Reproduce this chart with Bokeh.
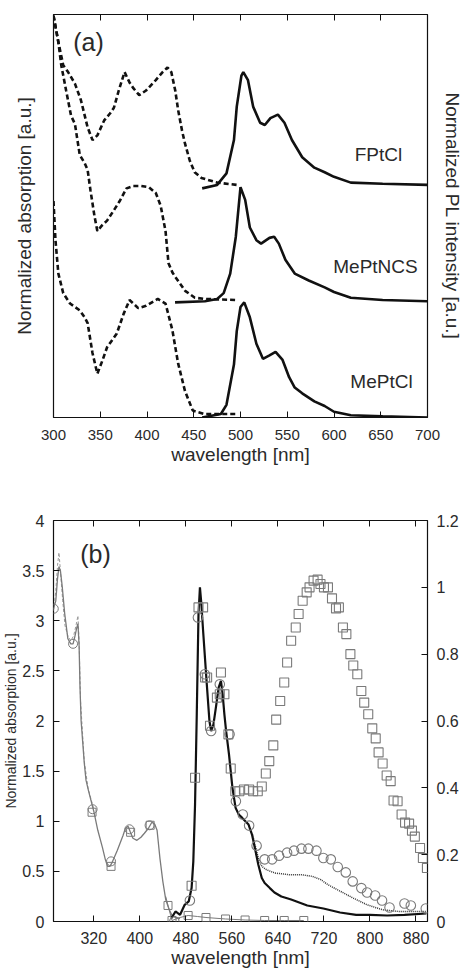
import math
from bokeh.plotting import figure
from bokeh.models import Range1d, LinearAxis, FixedTicker, Label, CustomJSTickFormatter
from bokeh.layouts import column
from bokeh.embed import file_html
from bokeh.resources import INLINE

# ---------------- panel (a) data ----------------
offsets_a = {"FPtCl": 2.0, "MePtNCS": 1.0, "MePtCl": 0.0}

wl_abs_fptcl = [300, 305.2, 310.4, 315.6, 322.9, 329.2, 336.5, 341.7, 346.9, 354.2, 360.4, 364.6, 369.8, 376,
                381.3, 385.4, 391.7, 399, 409.4, 416.7, 421.9, 426, 430.2, 433.3, 437.5, 440.6, 445.8, 451,
                458.3, 475, 495.8]
abs_fptcl = [1.49, 1.26, 1.06, 1.00, 0.90, 0.76, 0.52, 0.41, 0.45, 0.58, 0.64, 0.69, 0.84, 1.00,
             0.91, 0.86, 0.80, 0.84, 0.93, 1.00, 1.04, 1.00, 0.84, 0.67, 0.49, 0.38, 0.23, 0.13,
             0.08, 0.04, 0.02]

wl_abs_meptncs = [300, 305.2, 308.3, 313.5, 318.8, 322.9, 328.1, 333.3, 336.5, 339.6, 343.8, 346.9, 352.1,
                  357.3, 364.6, 370.8, 378.1, 385.4, 393.8, 402.1, 409.4, 414.6, 419.8, 423.0, 427.2, 430.4,
                  435.6, 440.8, 451.2, 461.6, 496]
abs_meptncs = [2.49, 2.26, 2.06, 1.84, 1.62, 1.55, 1.28, 1.21, 1.15, 0.97, 0.75, 0.62, 0.67,
               0.71, 0.80, 0.88, 0.99, 1.01, 1.01, 1.00, 0.95, 0.84, 0.62, 0.34, 0.26, 0.22,
               0.16, 0.10, 0.04, 0.03, 0.02]

wl_abs_meptcl = [300, 302.1, 305.2, 310.4, 317.7, 328.1, 333.3, 336.5, 341.7, 346.9, 352.1, 357.3, 367.7,
                 375, 381.3, 385.4, 390.6, 399, 411.5, 419.8, 427.1, 433.3, 440.6, 449, 461.6, 496]
abs_meptcl = [1.88, 1.54, 1.25, 1.08, 0.99, 0.93, 0.87, 0.82, 0.56, 0.38, 0.49, 0.61, 0.73,
              0.90, 1.02, 0.99, 0.95, 0.97, 1.03, 0.99, 0.76, 0.47, 0.23, 0.06, 0.03, 0.03]

wl_pl_fptcl = [459, 475, 485, 493, 496, 501, 503, 508, 513.5, 521, 526, 532, 540, 547, 555, 566, 579,
               590, 600, 618, 652, 700]
pl_fptcl = [-0.01, 0.02, 0.12, 0.41, 0.70, 0.97, 1.0, 0.93, 0.70, 0.56, 0.54, 0.60, 0.63, 0.56, 0.41,
            0.26, 0.17, 0.13, 0.09, 0.04, 0.03, 0.02]

wl_pl_meptncs = [430, 462, 475, 482, 489, 495, 500, 505, 510, 517, 522, 531, 536, 541, 548, 558, 573,
                 590, 600, 618, 652, 700]
pl_meptncs = [0.0, 0.01, 0.03, 0.08, 0.25, 0.57, 1.0, 0.89, 0.65, 0.54, 0.51, 0.56, 0.57, 0.51, 0.37,
              0.25, 0.19, 0.13, 0.09, 0.04, 0.02, 0.01]

wl_pl_meptcl = [459, 479, 485, 493, 496, 500, 504, 510, 517, 524, 531, 537.5, 545, 552, 558, 566, 579,
                590, 600, 618, 652, 700]
pl_meptcl = [0.0, 0.03, 0.11, 0.46, 0.75, 0.96, 1.0, 0.87, 0.64, 0.51, 0.54, 0.57, 0.50, 0.35, 0.26,
             0.21, 0.14, 0.10, 0.05, 0.02, 0.01, 0.0]

ticks_a = [300, 350, 400, 450, 500, 550, 600, 650, 700]

# ---------------- panel (b) data ----------------
wl_abs_b = [250, 254, 257, 259.5, 262, 265, 269.5, 275, 280, 284, 287, 290, 292.5, 294.5, 296, 298, 303.5,
            306.5, 311, 315, 320, 327, 335, 340, 344, 348, 352, 361, 371, 375, 379.5, 383, 388, 395, 402,
            408, 415, 421, 426, 430, 435, 440, 445, 451, 456, 462, 470]
abs_b = [3.12, 3.20, 3.42, 3.54, 3.50, 3.35, 3.07, 2.82, 2.77, 2.77, 2.84, 2.92, 2.97, 2.75, 2.35, 2.00, 1.58,
         1.41, 1.30, 1.21, 1.10, 0.91, 0.74, 0.62, 0.55, 0.55, 0.59, 0.71, 0.86, 0.93, 0.95, 0.90, 0.83, 0.81, 0.84,
         0.88, 0.93, 0.99, 0.97, 0.91, 0.63, 0.40, 0.22, 0.12, 0.06, 0.04, 0.03]

wl_abs_b2 = [250, 254, 257, 259.5, 262, 266, 270, 275, 280, 285, 289, 292.5, 294.5, 297, 303.5, 310, 320]
abs_b2 = [3.10, 3.30, 3.55, 3.68, 3.50, 3.20, 2.95, 2.85, 2.80, 2.85, 2.95, 3.05, 2.80, 2.20, 1.60, 1.33, 1.12]

wl_abs_tail = [445, 449, 456, 470, 484, 500, 515, 549, 583, 617, 651, 685]
abs_tail = [0.25, 0.16, 0.01, 0.04, 0.06, 0.05, 0.04, 0.025, 0.015, 0.01, 0.01, 0.01]

wl_abs_circ = [250.5, 284, 318, 350, 382, 417]
abs_circ = [3.12, 2.77, 1.12, 0.60, 0.92, 0.96]
wl_abs_sq = [317, 350, 384, 418, 449, 456, 484, 515, 549, 583, 617, 651, 685]
abs_sq = [1.09, 0.55, 0.89, 0.96, 0.16, 0.01, 0.06, 0.04, 0.025, 0.015, 0.01, 0.01, 0.01]

wl_pl_black = [455, 462, 470, 478, 485, 490, 493, 496, 499, 502, 504.5, 507, 510, 516, 521, 524, 528, 533, 537,
               541, 544, 547, 550, 555, 561, 566.5, 572, 578, 589, 595, 600, 606, 612, 617, 626, 634, 646, 663,
               691, 719, 748, 776, 800, 830, 860, 898]
pl_black = [0.01, 0.03, 0.02, 0.05, 0.06, 0.10, 0.18, 0.35, 0.62, 0.92, 1.0, 0.95, 0.87, 0.72, 0.60, 0.57, 0.59,
            0.65, 0.70, 0.72, 0.68, 0.62, 0.57, 0.50, 0.40, 0.34, 0.32, 0.31, 0.29, 0.26, 0.22, 0.17, 0.13,
            0.115, 0.10, 0.087, 0.075, 0.066, 0.048, 0.039, 0.027, 0.02, 0.02, 0.018, 0.02, 0.024]

wl_pl_dot = [596, 600, 606, 612, 620, 635, 660, 681, 700, 715, 727, 749, 771, 795, 822, 850, 898]
pl_dot = [0.26, 0.23, 0.19, 0.165, 0.155, 0.145, 0.14, 0.14, 0.135, 0.125, 0.11, 0.09, 0.07, 0.05, 0.035,
          0.03, 0.03]

wl_pl_circ = [460, 487, 501, 513, 524, 539, 556, 567, 579, 590, 603, 617, 630, 642, 656, 668, 681, 693, 707,
              719, 732, 744, 758, 770, 785, 795, 809, 821, 834, 860, 871, 897]
pl_circ = [0.0, 0.063, 0.91, 0.74, 0.57, 0.71, 0.56, 0.36, 0.32, 0.287, 0.227, 0.186, 0.186, 0.197, 0.206,
           0.212, 0.218, 0.218, 0.212, 0.19, 0.186, 0.163, 0.147, 0.12, 0.10, 0.087, 0.078, 0.063, 0.042,
           0.054, 0.048, 0.039]

wl_pl_sq = [490, 496, 502, 510, 513.5, 517, 522, 534, 539, 541, 547, 554, 558, 566, 573, 581, 590, 597, 605,
            612, 619, 625, 632, 637, 644, 651, 656, 663, 671, 676, 683, 690, 695, 702, 709, 714, 720, 727, 734,
            741, 746, 753, 759, 766, 771, 778, 785, 790, 797, 804, 810, 815, 822, 829, 836, 841, 848, 855, 861,
            868, 873, 878, 887, 892, 899]
pl_sq = [0.107, 0.43, 0.94, 0.94, 0.73, 0.73, 0.586, 0.67, 0.68, 0.745, 0.68, 0.56, 0.458, 0.39, 0.39, 0.395,
         0.395, 0.39, 0.39, 0.404, 0.443, 0.48, 0.527, 0.604, 0.66, 0.715, 0.775, 0.84, 0.88, 0.92, 0.96, 0.985,
         1.0, 1.02, 1.023, 1.01, 1.0, 1.0, 0.967, 0.937, 0.94, 0.88, 0.86, 0.80, 0.766, 0.74, 0.69, 0.655, 0.62,
         0.578, 0.548, 0.506, 0.473, 0.437, 0.42, 0.362, 0.36, 0.32, 0.296, 0.293, 0.272, 0.254, 0.22, 0.19, 0.16]

ticks_b_x = [320, 400, 480, 560, 640, 720, 800, 880]
ticks_b_left = [0, 0.5, 1, 1.5, 2, 2.5, 3, 3.5, 4]
ticks_b_right = [0, 0.2, 0.4, 0.6, 0.8, 1.0, 1.2]

# ---------------- styling ----------------
FONT = "Liberation Sans"
TXT = "#2a2a2a"
INK = "#111111"
GRAY = "#7a7a7a"


def style_axis(ax, ticks, label_size="15px", standoff=8, show_labels=True):
    ax.ticker = FixedTicker(ticks=ticks)
    ax.axis_line_color = None
    ax.major_tick_in = 6
    ax.major_tick_out = 0
    ax.major_tick_line_color = INK
    ax.major_tick_line_width = 1
    ax.minor_tick_line_color = None
    ax.major_label_text_font = FONT
    ax.major_label_text_color = TXT
    ax.major_label_standoff = standoff
    ax.major_label_text_font_size = label_size
    ax.axis_label_text_font = FONT
    ax.axis_label_text_font_style = "normal"
    ax.axis_label_text_color = TXT
    if not show_labels:
        ax.major_label_text_font_size = "1px"
        ax.major_label_text_color = None
        ax.major_label_text_alpha = 0
        ax.major_label_standoff = 0


def add_text(p, x, y, text, size):
    p.add_layout(Label(x=x, y=y, x_units="screen", y_units="screen", text=text,
                       text_font=FONT, text_font_size=size, text_color=TXT,
                       text_align="center", text_baseline="middle"))


# ---------------- panel (a) ----------------
pa = figure(width=465, height=470, x_range=Range1d(300, 700), y_range=Range1d(0, 3.5),
            output_backend="svg", toolbar_location=None,
            x_axis_location="below", y_axis_location="left",
            min_border_left=45, min_border_right=36, min_border_top=14, min_border_bottom=53)
pa.grid.visible = False
pa.outline_line_color = INK
pa.outline_line_width = 1.2

xa = pa.xaxis[0]
style_axis(xa, ticks_a, "15px", 12)
xa.axis_label = "wavelength [nm]"
xa.axis_label_text_font_size = "19px"
xa.axis_label_standoff = 1

ya = pa.yaxis[0]
style_axis(ya, [], "15px", 0)
ya.major_tick_line_color = None
ya.axis_label = "Normalized absorption [a.u.]"
ya.axis_label_text_font_size = "19px"
ya.axis_label_standoff = 19

ra = LinearAxis()
style_axis(ra, [], "15px", 0)
ra.major_tick_line_color = None
ra.axis_label = "Normalized PL intensity [a.u.]"
ra.axis_label_text_font_size = "19px"
ra.axis_label_standoff = 14
pa.add_layout(ra, "right")

top_a = LinearAxis()
style_axis(top_a, ticks_a, show_labels=False)
pa.add_layout(top_a, "above")

series_a = [
    ("FPtCl", wl_abs_fptcl, abs_fptcl, wl_pl_fptcl, pl_fptcl),
    ("MePtNCS", wl_abs_meptncs, abs_meptncs, wl_pl_meptncs, pl_meptncs),
    ("MePtCl", wl_abs_meptcl, abs_meptcl, wl_pl_meptcl, pl_meptcl),
]
for name, wa, va, wp, vp in series_a:
    off = offsets_a[name]
    pa.line(wa, [v + off for v in va], line_color=INK, line_width=2.6, line_dash="5 3")
    pa.line(wp, [v + off for v in vp], line_color=INK, line_width=2.6)

# positions relative to the frame (left 45, bottom 417)
add_text(pa, 35, 376, "(a)", "25px")
add_text(pa, 325, 263, "FPtCl", "19px")
add_text(pa, 322, 151, "MePtNCS", "19px")
add_text(pa, 328, 36, "MePtCl", "19px")

# ---------------- panel (b) ----------------
pb = figure(width=465, height=500, x_range=Range1d(250, 900), y_range=Range1d(0, 4),
            output_backend="svg", toolbar_location=None,
            x_axis_location="below", y_axis_location="left",
            min_border_left=47, min_border_right=36, min_border_top=50, min_border_bottom=49)
pb.extra_y_ranges = {"pl": Range1d(0, 1.2)}
pb.grid.visible = False
pb.outline_line_color = INK
pb.outline_line_width = 1.2
fmt = "return String(Math.round(tick * 1000) / 1000);"

xb = pb.xaxis[0]
style_axis(xb, ticks_b_x, "16px", 10)
xb.axis_label = "wavelength [nm]"
xb.axis_label_text_font_size = "19px"
xb.axis_label_standoff = 0

yb = pb.yaxis[0]
style_axis(yb, ticks_b_left, "16px", 9)
yb.formatter = CustomJSTickFormatter(code=fmt)
yb.axis_label = "Normalized absorption [a.u.]"
yb.axis_label_text_font_size = "14px"
yb.axis_label_standoff = 0

right_b = LinearAxis(y_range_name="pl")
style_axis(right_b, ticks_b_right, "16px", 9)
right_b.formatter = CustomJSTickFormatter(code=fmt)
pb.add_layout(right_b, "right")

top_b = LinearAxis()
style_axis(top_b, ticks_b_x, show_labels=False)
pb.add_layout(top_b, "above")

# absorption (left axis)
pb.line(wl_abs_b2, abs_b2, line_color="#999999", line_width=1, line_dash="3 2")
pb.line(wl_abs_b, abs_b, line_color=GRAY, line_width=1.3)
pb.line(wl_abs_tail, abs_tail, line_color=GRAY, line_width=1)
pb.scatter(wl_abs_circ, abs_circ, marker="circle", size=9, fill_color=None, line_color=GRAY, line_width=1)
pb.scatter(wl_abs_sq, abs_sq, marker="square", size=8, fill_color=None, line_color=GRAY, line_width=1)

# PL (right axis)
pb.line(wl_pl_dot, pl_dot, line_color="#333333", line_width=1.5, line_dash="1 1", y_range_name="pl")
pb.line(wl_pl_black, pl_black, line_color=INK, line_width=2.2, y_range_name="pl")
pb.scatter(wl_pl_circ, pl_circ, marker="circle", size=9.5, fill_color=None, line_color=GRAY, line_width=1.1,
           y_range_name="pl")
pb.scatter(wl_pl_sq, pl_sq, marker="square", size=9, fill_color=None, line_color=GRAY, line_width=1.1,
           y_range_name="pl")

add_text(pb, 42, 368, "(b)", "25px")

layout = column(pa, pb)
open("out.html", "w").write(file_html(layout, INLINE))
